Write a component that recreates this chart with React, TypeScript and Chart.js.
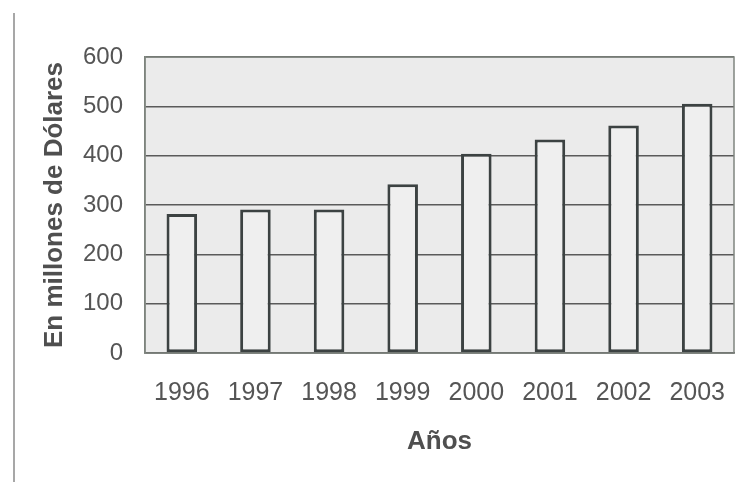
import React, { useEffect, useRef } from "react";
import { Chart, registerables } from "chart.js";

Chart.register(...registerables);

const years = ["1996", "1997", "1998", "1999", "2000", "2001", "2002", "2003"];
const values = [282, 291, 291, 342, 404, 433, 461, 505];
const yTitle = "En millones de Dólares";
const xTitle = "Años";

const FONT = "'Liberation Sans', Arial, Helvetica, sans-serif";

const decorPlugin = {
  id: "decor",
  beforeDraw(chart: any) {
    const { ctx, chartArea } = chart;
    ctx.save();
    ctx.fillStyle = "#ffffff";
    ctx.fillRect(0, 0, chart.width, chart.height);
    ctx.fillStyle = "#ebebeb";
    ctx.fillRect(
      chartArea.left,
      chartArea.top,
      chartArea.right - chartArea.left,
      chartArea.bottom - chartArea.top
    );
    ctx.restore();
  },
  afterDraw(chart: any) {
    const { ctx, chartArea } = chart;
    ctx.save();
    ctx.strokeStyle = "#7f857f";
    ctx.lineWidth = 1.5;
    ctx.strokeRect(
      chartArea.left,
      chartArea.top,
      chartArea.right - chartArea.left,
      chartArea.bottom - chartArea.top
    );
    ctx.strokeStyle = "#8a8a8a";
    ctx.lineWidth = 1.5;
    ctx.beginPath();
    ctx.moveTo(14, 13);
    ctx.lineTo(14, chart.height);
    ctx.stroke();
    ctx.restore();
  },
};

export default function App() {
  const ref = useRef<HTMLCanvasElement | null>(null);

  useEffect(() => {
    if (!ref.current) return;
    const chart = new Chart(ref.current, {
      type: "bar",
      data: {
        labels: years,
        datasets: [
          {
            data: values,
            backgroundColor: "#efefef",
            borderColor: "#3c4242",
            borderWidth: 3,
            borderSkipped: false,
            barPercentage: 0.415,
            categoryPercentage: 1,
          },
        ],
      },
      options: {
        animation: false,
        responsive: false,
        devicePixelRatio: 1,
        layout: { padding: { left: 0, right: 8, top: 57, bottom: 0 } },
        plugins: {
          legend: { display: false },
          tooltip: { enabled: false },
        },
        scales: {
          x: {
            afterFit(scale: any) {
              scale.height = 129;
              scale.paddingLeft = 0;
              scale.paddingRight = 0;
            },
            grid: { display: false, drawTicks: false },
            border: { display: true, color: "#555555", width: 1.5 },
            ticks: {
              padding: 25.5,
              color: "#555555",
              font: { family: FONT, size: 25 },
            },
            title: {
              display: true,
              text: xTitle,
              color: "#4f4f4f",
              font: { family: FONT, size: 26, weight: "bold" },
              padding: { top: 0, bottom: 25 },
            },
          },
          y: {
            min: 0,
            max: 600,
            afterFit(scale: any) {
              scale.width = 145;
            },
            grid: { color: "#5a5a5a", lineWidth: 1.5, drawTicks: false },
            border: { display: true, color: "#7a7f7a", width: 1.5 },
            ticks: {
              stepSize: 100,
              padding: 22,
              color: "#555555",
              font: { family: FONT, size: 24 },
            },
            title: {
              display: true,
              text: yTitle,
              color: "#4f4f4f",
              font: { family: FONT, size: 26, weight: "bold" },
              padding: { top: 39, bottom: 0 },
            },
          },
        },
      },
      plugins: [decorPlugin],
    });
    return () => chart.destroy();
  }, []);

  return (
    <div style={{ position: "fixed", left: 0, top: 0, width: 742, height: 482, background: "#fff" }}>
      <canvas ref={ref} width={742} height={482} style={{ display: "block", width: 742, height: 482 }} />
    </div>
  );
}
